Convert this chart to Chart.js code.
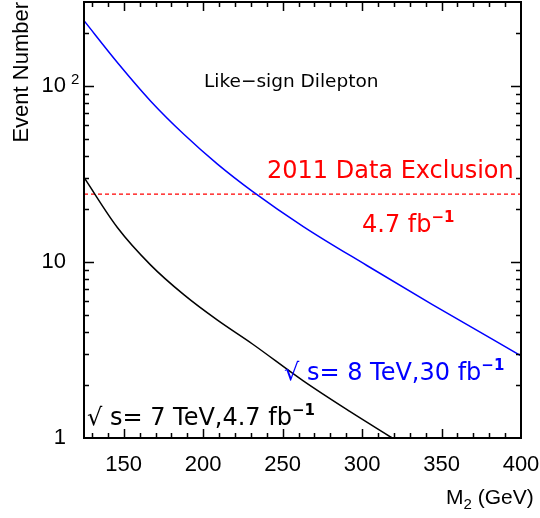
<!DOCTYPE html>
<html>
<head>
<meta charset="utf-8">
<script src="https://cdn.jsdelivr.net/npm/chart.js@4"></script>
<style>
  html, body { margin: 0; padding: 0; background: #fff; }
</style>
</head>
<body>
<canvas id="plot" width="540" height="518"></canvas>
<script>
// values: M2 (GeV) and expected event number
const massBlue = [125, 146, 167, 188, 209, 231, 263, 303, 344, 400];
const eventsBlue = [235, 136, 82, 53, 36, 25.2, 15.9, 9.55, 5.75, 2.93];
const massBlack = [125, 146, 167, 188, 209, 231, 263, 292, 319];
const eventsBlack = [30.2, 15.7, 9.6, 6.5, 4.67, 3.42, 2.11, 1.42, 1.0];
const exclusionMass = [125, 400];
const exclusionEvents = [24.3, 24.3];
const xTickLabels = [150, 200, 250, 300, 350, 400];
const yTickLabels = [1, 10, 100];

const toPoints = (xs, ys) => xs.map((m, i) => ({ x: m, y: ys[i] }));

// text with an optional superscript / subscript tail
function drawRich(ctx, parts, x, y, color) {
  ctx.fillStyle = color;
  ctx.textBaseline = 'alphabetic';
  ctx.textAlign = 'left';
  let cx = x;
  for (const p of parts) {
    ctx.font = p.font;
    ctx.fillText(p.text, cx, y + (p.dy || 0));
    cx += ctx.measureText(p.text).width;
  }
}

const framePlugin = {
  id: 'frame',
  afterDatasetsDraw(chart) {
    const { ctx, chartArea: a, scales: { x, y } } = chart;
    ctx.save();
    ctx.strokeStyle = '#000';
    ctx.lineWidth = 1.5;
    ctx.beginPath();
    for (let v = 130; v < 400; v += 10) {
      const px = Math.round(x.getPixelForValue(v)) + 0.5;
      const len = v % 50 === 0 ? 9 : 5;
      ctx.moveTo(px, a.bottom); ctx.lineTo(px, a.bottom - len);
      ctx.moveTo(px, a.top); ctx.lineTo(px, a.top + len);
    }
    for (let d = 1; d <= 100; d *= 10) {
      for (let m = 1; m <= 9; m++) {
        const v = d * m;
        if (v <= 1 || v >= 300) continue;
        const py = Math.round(y.getPixelForValue(v)) + 0.5;
        const len = m === 1 ? 10 : 5;
        ctx.moveTo(a.left, py); ctx.lineTo(a.left + len, py);
        ctx.moveTo(a.right, py); ctx.lineTo(a.right - len, py);
      }
    }
    ctx.stroke();
    ctx.lineWidth = 2;
    ctx.strokeRect(a.left, a.top, a.width, a.height);

    // exponent of the 10^2 tick label
    ctx.fillStyle = '#000';
    ctx.font = '15px "Liberation Sans"';
    ctx.textAlign = 'left';
    ctx.textBaseline = 'alphabetic';
    ctx.fillText('2', a.left - 13, y.getPixelForValue(100) - 2);

    const big = '24px "DejaVu Sans"';
    const sup = 'bold 15px "DejaVu Sans"';
    drawRich(ctx, [{ text: 'Like\u2212sign Dilepton', font: '18.5px "DejaVu Sans"' }], 204, 87, '#000');
    drawRich(ctx, [{ text: '2011 Data Exclusion', font: big }], 267, 178, '#ff0000');
    drawRich(ctx, [{ text: '4.7 fb', font: big }, { text: '\u22121', font: sup, dy: -10 }], 362, 232, '#ff0000');
    drawRich(ctx, [{ text: '\u221A s= 8 TeV,30 fb', font: big }, { text: '\u22121', font: sup, dy: -10 }], 284, 380, '#0000ff');
    drawRich(ctx, [{ text: '\u221A s= 7 TeV,4.7 fb', font: big }, { text: '\u22121', font: sup, dy: -10 }], 87, 425, '#000');
    drawRich(ctx, [
      { text: 'M', font: '21px "Liberation Sans"' },
      { text: '2', font: '15px "Liberation Sans"', dy: 5 },
      { text: ' (GeV)', font: '21px "Liberation Sans"' }
    ], 446, 504, '#000');
    ctx.restore();
  }
};

const ctx = document.getElementById('plot').getContext('2d');
new Chart(ctx, {
  type: 'line',
  data: {
    datasets: [{
      data: toPoints(massBlue, eventsBlue),
      borderColor: '#0000ff',
      borderWidth: 1.5,
      pointRadius: 0,
      cubicInterpolationMode: 'monotone'
    }, {
      data: toPoints(massBlack, eventsBlack),
      borderColor: '#000000',
      borderWidth: 1.5,
      pointRadius: 0,
      cubicInterpolationMode: 'monotone'
    }, {
      data: toPoints(exclusionMass, exclusionEvents),
      borderColor: '#ff0000',
      borderWidth: 1.2,
      borderDash: [4, 3],
      pointRadius: 0
    }]
  },
  options: {
    responsive: false,
    animation: false,
    devicePixelRatio: 1,
    layout: { padding: { top: 2, right: 19, left: 0, bottom: 0 } },
    plugins: { legend: { display: false }, tooltip: { enabled: false } },
    scales: {
      x: {
        type: 'linear',
        min: 125,
        max: 400,
        grid: { display: false, drawTicks: false },
        border: { display: false },
        afterBuildTicks: s => { s.ticks = xTickLabels.map(v => ({ value: v })); },
        afterFit: s => {
          s.height = 80;
          s.paddingLeft = 0; s.paddingRight = 0; s.paddingTop = 0; s.paddingBottom = 0;
        },
        ticks: {
          padding: 14,
          maxRotation: 0,
          color: '#000',
          font: { family: 'Liberation Sans', size: 22 }
        }
      },
      y: {
        type: 'logarithmic',
        min: 1,
        max: 300,
        grid: { display: false, drawTicks: false },
        border: { display: false },
        afterBuildTicks: s => { s.ticks = yTickLabels.map(v => ({ value: v })); },
        afterFit: s => {
          s.width = 84;
          s.paddingLeft = 0; s.paddingRight = 0; s.paddingTop = 0; s.paddingBottom = 0;
        },
        ticks: {
          padding: 18,
          color: '#000',
          font: { family: 'Liberation Sans', size: 22 },
          callback: v => String(v === 100 ? 10 : v)
        },
        title: {
          display: true,
          text: 'Event Number',
          align: 'end',
          color: '#000',
          font: { family: 'Liberation Sans', size: 22 },
          padding: { top: 9, bottom: 0 }
        }
      }
    }
  },
  plugins: [framePlugin]
});
</script>
</body>
</html>
